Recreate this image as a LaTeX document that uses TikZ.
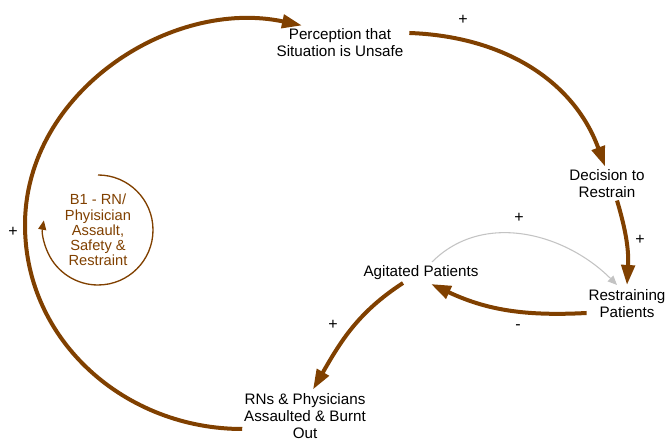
\documentclass[tikz,border=0pt]{standalone}
\usepackage{fontspec}
\setmainfont{Liberation Sans}
\usetikzlibrary{arrows.meta}
\definecolor{loopbrown}{RGB}{128,64,0}
\definecolor{linkgray}{RGB}{195,195,195}

\begin{document}
\begin{tikzpicture}[x=0.75pt,y=0.75pt,
  var/.style={align=center,inner sep=2pt,font=\fontsize{11.4}{12.75}\selectfont},
  loopname/.style={align=center,inner sep=2pt,text=loopbrown,font=\fontsize{11}{11.4}\selectfont},
  sign/.style={inner sep=1pt,font=\fontsize{12}{14}\selectfont},
  link/.style={draw=loopbrown,line width=3pt,-{Triangle[length=15pt,width=10pt]}},
  weaklink/.style={draw=linkgray,line width=0.8pt,-{Triangle[length=7pt,width=6pt]}},
  looparc/.style={draw=loopbrown,line width=1pt,-{Triangle[length=7pt,width=6pt]}}]
	\useasboundingbox (0,0) rectangle (671,441);
	
	\node[var] (perc) at (340,398.5) {Perception that\\Situation is Unsafe};
	\node[var] (dec) at (607,257.5) {Decision to\\Restrain};
	\node[var] (restr) at (627,137) {Restraining\\Patients};
	\node[var] (agit) at (421,168) {Agitated Patients};
	\node[var] (rns) at (305,25) {RNs \& Physicians\\Assaulted \& Burnt\\Out};
	\node[loopname] (b1) at (98,211) {B1 - RN/\\Phyisician\\Assault,\\Safety \&\\Restraint};
	\coordinate (far) at (25,216);
	
	\draw[link] ([shift={(3,9.5)}]perc.east) to[out=-2,in=110] ([shift={(-2,0)}]dec.north);
	\draw[link] ([shift={(10,0)}]dec.south) to[bend left=10] ([shift={(0,2)}]restr.north);
	\draw[link] ([shift={(1,-9)}]restr.west) to[out=183,in=-25] ([shift={(10,-1)}]agit.south);
	\draw[weaklink] ([shift={(11,1)}]agit.north) to[out=45,in=135] ([shift={(-10,2)}]restr.north);
	\draw[link] ([shift={(-18,0)}]agit.south) to[out=213,in=60] ([shift={(8,1)}]rns.north);
	\draw[link] ([shift={(1,-13)}]rns.west) to[out=180,in=-90] (far) to[out=90,in=168] ([shift={(-38,0)}]perc.north);
	\draw[looparc] ([shift={(90:55)}]b1.center) arc[start angle=90,end angle=-190,radius=41.25pt];
	
	\node[sign] (s1) at (463,421) {+};
	\node[sign] (s2) at (640,201) {+};
	\node[sign] (s3) at (519,223) {+};
	\node[sign] (s4) at (518,114) {-};
	\node[sign] (s5) at (333,116) {+};
	\node[sign] (s6) at (13,209) {+};
\end{tikzpicture}
\end{document}
